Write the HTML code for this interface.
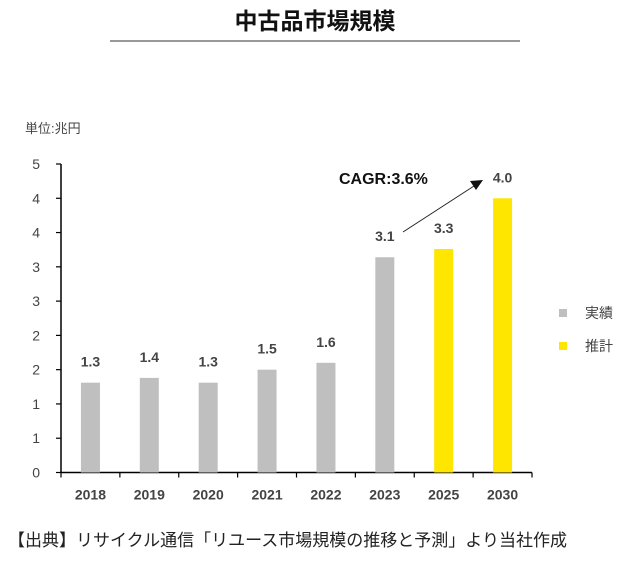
<!DOCTYPE html>
<html><head><meta charset="utf-8"><style>
body{margin:0;background:#fff;width:628px;height:560px;overflow:hidden;font-family:"Liberation Sans","Noto Sans CJK JP",sans-serif}
</style></head><body>
<svg width="628" height="560" xmlns="http://www.w3.org/2000/svg" font-family="Liberation Sans, Noto Sans CJK JP, sans-serif">
<text x="315" y="29" text-anchor="middle" font-size="23" font-weight="bold" fill="#111">中古品市場規模</text>
<line x1="110" y1="41" x2="520" y2="41" stroke="#333" stroke-width="1"/>
<text x="25" y="133" font-size="13" fill="#444">単位:兆円</text>
<g id="chart"></g>
<text x="339" y="184" font-size="16" font-weight="bold" fill="#111">CAGR:3.6%</text>
<line x1="403" y1="232" x2="474" y2="186" stroke="#222" stroke-width="1"/>
<polygon points="483,180 470,181 476,190" fill="#111"/>
<rect x="559" y="309" width="8" height="8" fill="#bfbfbf"/>
<text x="585" y="318" font-size="14" fill="#444">実績</text>
<rect x="559" y="342" width="8" height="8" fill="#ffe600"/>
<text x="585" y="351" font-size="14" fill="#444">推計</text>
<text x="8" y="546" font-size="17" fill="#222">【出典】リサイクル通信「リユース市場規模の推移と予測」より当社作成</text>
</svg>
<script>
const categories=["2018","2019","2020","2021","2022","2023","2025","2030"];
const values=[1.31,1.38,1.31,1.5,1.6,3.14,3.26,4.0];
const valueLabels=["1.3","1.4","1.3","1.5","1.6","3.1","3.3","4.0"];
const isEstimate=[false,false,false,false,false,false,true,true];
const yTickValues=[0,0.5,1,1.5,2,2.5,3,3.5,4,4.5];
const yTickLabels=["0","1","1","2","2","3","3","4","4","5"];
const NS="http://www.w3.org/2000/svg";
const g=document.getElementById('chart');
const x0=61,x1=532,yBase=472.5,yTop=164,yMax=4.5;
const bw=(x1-x0)/categories.length;
const y=v=>yBase-(v/yMax)*(yBase-yTop);
const xc=i=>x0+bw*(i+0.5);
function el(t,a){const e=document.createElementNS(NS,t);for(const k in a)e.setAttribute(k,a[k]);g.appendChild(e);return e;}
const ya=el('line',{x1:x0,y1:yTop,x2:x0,y2:yBase,stroke:'#000','stroke-width':1.5});


yTickValues.forEach((v,i)=>{
 const t=el('line',{x1:x0-5,y1:y(v),x2:x0,y2:y(v),stroke:'#000','stroke-width':1.2});
 
 
 const l=el('text',{x:40,y:y(v)+5,'text-anchor':'end','font-size':14,fill:'#444'});l.textContent=yTickLabels[i];
 
 
});
const xa=el('line',{x1:x0,y1:yBase,x2:x1,y2:yBase,stroke:'#000','stroke-width':1.5});


for(let i=0;i<=categories.length;i++){
 const t=el('line',{x1:x0+bw*i,y1:yBase,x2:x0+bw*i,y2:yBase+5,stroke:'#000','stroke-width':1.2});
 
 
}
categories.forEach((c,i)=>{
 const b=el('rect',{x:xc(i)-9.5,y:y(values[i]),width:19,height:yBase-y(values[i]),fill:isEstimate[i]?'#ffe600':'#bfbfbf'});
 
 
 const vl=el('text',{x:xc(i),y:y(values[i])-16,'text-anchor':'middle','font-size':14,'font-weight':'bold',fill:'#444'});vl.textContent=valueLabels[i];
 
 
 const xl=el('text',{x:xc(i),y:yBase+27,'text-anchor':'middle','font-size':14,'font-weight':'bold',fill:'#444'});xl.textContent=c;
 
 
});
</script>
</body></html>
